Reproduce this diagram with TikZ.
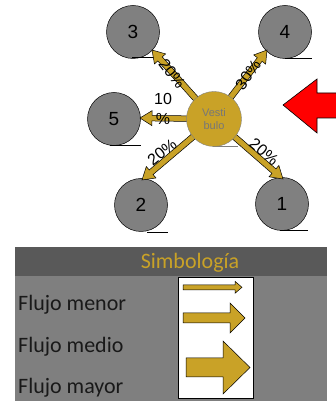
\documentclass[tikz,border=0pt]{standalone}
\usepackage{fontspec}
\setmainfont{Liberation Sans}
\newfontfamily\calib{Carlito}
\usetikzlibrary{calc}
\definecolor{gold}{HTML}{C9A227}
\definecolor{circgray}{HTML}{808080}
\definecolor{hdrgray}{HTML}{595959}
\definecolor{bodygray}{HTML}{7F7F7F}
\definecolor{vtext}{HTML}{777777}
% block arrow: #1 start, #2 tip, #3 shaft half width, #4 head half width, #5 head length
\newcommand\blockarrow[5]{%
  \filldraw[draw=black, fill=gold, line width=0.5pt, line join=miter]
   let \p1=(#1), \p2=(#2),
       \n1={atan2(\y2-\y1,\x2-\x1)},
       \n2={veclen(\x2-\x1,\y2-\y1)},
       \n3={atan2(#4,#5)},
       \n4={veclen(#4,#5)}
   in (\p2) -- ++(\n1+180+\n3:\n4) -- ++(\n1+90:#4-#3) -- ++(\n1+180:\n2-#5)
      -- ++(\n1+90:2*#3) -- ++(\n1:\n2-#5) -- ++(\n1+90:#4-#3) -- cycle;}
\tikzset{
  station/.style={circle, draw=black, fill=circgray, minimum size=53pt, inner sep=0pt,
    line width=0.5pt, font=\fontsize{19}{21}\selectfont},
  hub/.style={circle, draw=gray, fill=gold, minimum size=55pt, inner sep=0pt,
    line width=0.4pt, align=center, text=vtext, font=\fontsize{11}{13}\selectfont},
  pct/.style={inner sep=0pt, align=center, font=\fontsize{16}{20}\selectfont},
  shadowline/.style={line width=0.6pt, black},
  legtext/.style={anchor=west, inner sep=0pt, text=black!90, font=\calib\fontsize{22}{24}\selectfont},
}
\begin{document}
\begin{tikzpicture}[x=1pt, y=1pt]
\useasboundingbox (0,0) rectangle (335,401);
% stations
\node[station] (c3) at (133,369) {3};
\node[station] (c4) at (285,369) {4};
\node[station] (c5) at (114,282) {5};
\node[station] (c2) at (141,196) {2};
\node[station] (c1) at (282,197) {1};
% shadow lines under circles
\draw[shadowline] (132,344) -- (157,344);
\draw[shadowline] (285,343) -- (312,343);
\draw[shadowline] (110,256) -- (141,256);
\draw[shadowline] (147,169) -- (168,169);
\draw[shadowline] (280,171) -- (308,171);
\draw[line width=0.6pt, gray] (213,254.3) -- (238,254.3);
% flows
\coordinate (vc) at (214,282);
\coordinate (t3) at (152,351);
\coordinate (t4) at (267,351);
\coordinate (t5) at (140,283);
\coordinate (t2) at (142,221);
\coordinate (t1) at (283,222);
\blockarrow{vc}{t3}{3}{7.5}{12}
\blockarrow{vc}{t4}{3}{7.5}{12}
\blockarrow{vc}{t5}{2.8}{7.5}{12}
\blockarrow{vc}{t2}{3}{7.5}{12}
\blockarrow{vc}{t1}{3}{7.5}{12}
\node[hub] (v) at (vc) {Vesti\\bulo};
% percentages
\node[pct, rotate=-52] (l3) at (172,327) {20\%};
\node[pct, rotate=55] (l4) at (248,326) {30\%};
\node[pct] (l5) at (163,292) {10\\\%};
\node[pct, rotate=38] (l2) at (162,249) {20\%};
\node[pct, rotate=-40] (l1) at (264,249) {20\%};
% red arrow
\filldraw[fill=red, draw=black, line width=0.6pt, line join=miter]
  (345,308) -- (317,308) -- (317,322) -- (283,296) -- (317,268) -- (317,283) -- (345,283) -- cycle;
% legend
\fill[hdrgray] (15,125) rectangle (327,154);
\fill[bodygray] (15,0) rectangle (327,125);
\node[inner sep=0pt, text=gold, font=\calib\fontsize{22}{24}\selectfont] (ttl) at (190,138) {Simbología};
\draw[fill=white, line width=0.7pt] (178,3) rectangle (253,124);
\coordinate (a1s) at (183,113.7); \coordinate (a1t) at (242,113.7);
\coordinate (a2s) at (183,83);   \coordinate (a2t) at (245,83);
\coordinate (a3s) at (186,33.5); \coordinate (a3t) at (250,33.5);
\blockarrow{a1s}{a1t}{2.5}{6}{7}
\blockarrow{a2s}{a2t}{5}{15}{15}
\blockarrow{a3s}{a3t}{9.5}{26.5}{27}
\node[legtext] (fmen) at (18,96) {Flujo menor};
\node[legtext] (fmed) at (18,54) {Flujo medio};
\node[legtext] (fmay) at (18,13) {Flujo mayor};
\end{tikzpicture}
\end{document}
